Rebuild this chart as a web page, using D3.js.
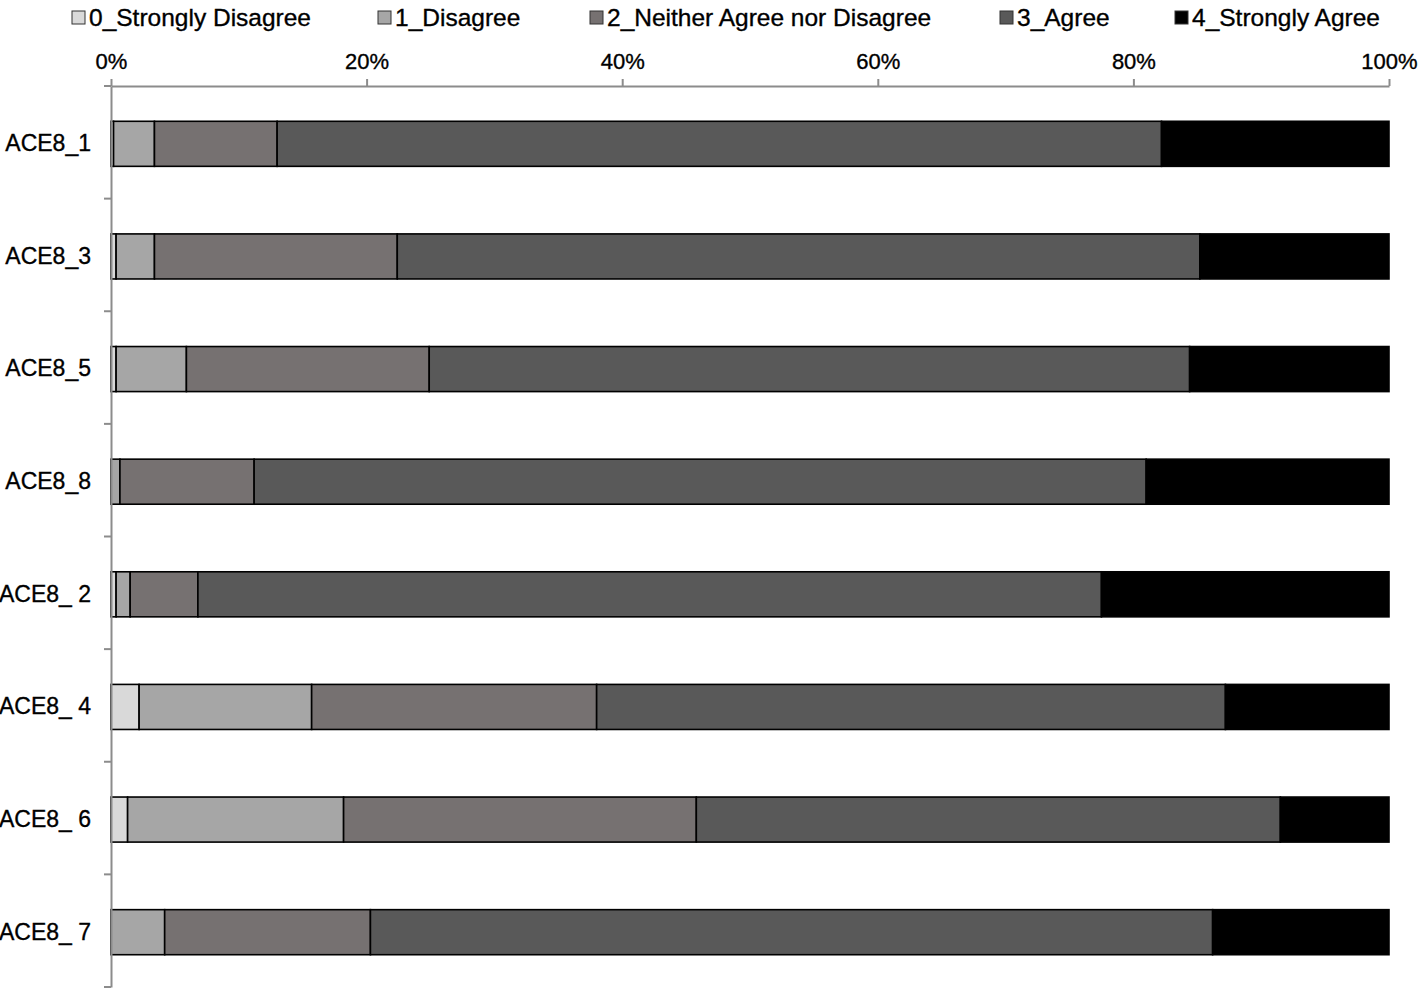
<!DOCTYPE html>
<html>
<head>
<meta charset="utf-8">
<script src="https://cdn.jsdelivr.net/npm/d3@7"></script>
<style>
  html, body { margin: 0; padding: 0; background: #fff; }
  svg { display: block; font-family: "Liberation Sans", Arial, sans-serif; }
</style>
</head>
<body>
<svg id="chart" width="1424" height="988"></svg>
<script>
const categories = ["ACE8_1", "ACE8_3", "ACE8_5", "ACE8_8", "ACE8_ 2", "ACE8_ 4", "ACE8_ 6", "ACE8_ 7"];
const seriesNames = ["0_Strongly Disagree", "1_Disagree", "2_Neither Agree nor Disagree", "3_Agree", "4_Strongly Agree"];
const stronglyDisagree = [0.2, 0.4, 0.4, 0.0, 0.4, 2.2, 1.3, 0.0];
const disagree         = [3.2, 3.0, 5.5, 0.7, 1.1, 13.5, 16.9, 4.2];
const neither          = [9.6, 19.0, 19.0, 10.5, 5.3, 22.3, 27.6, 16.1];
const agree            = [69.2, 62.8, 59.5, 69.8, 70.7, 49.2, 45.7, 65.9];
const stronglyAgree    = [17.8, 14.8, 15.6, 19.0, 22.5, 12.8, 8.5, 13.8];
const tickValues = [0, 20, 40, 60, 80, 100];
const colors = ["#d9d9d9", "#a6a6a6", "#767171", "#595959", "#000000"];

const seriesValues = [stronglyDisagree, disagree, neither, agree, stronglyAgree];
const table = categories.map((c, i) => {
  const row = { cat: c };
  seriesNames.forEach((s, k) => row[s] = seriesValues[k][i]);
  return row;
});

const svg = d3.select("#chart");
const x = d3.scaleLinear().domain([0, 100]).range([111, 1389]);
const y = d3.scaleBand().domain(categories).range([86, 987]).paddingInner(0.6).paddingOuter(0.3);
const barOffset = 1.5;

const stacked = d3.stack().keys(seriesNames)(table);

// bars
const g = svg.append("g").attr("transform", `translate(0,${barOffset})`);
stacked.forEach((layer, k) => {
  g.selectAll(null)
    .data(layer.filter(d => d[1] - d[0] > 0))
    .enter().append("rect")
    .attr("x", d => x(d[0]))
    .attr("y", d => y(d.data.cat))
    .attr("width", d => x(d[1]) - x(d[0]))
    .attr("height", y.bandwidth())
    .attr("fill", colors[k])
    .attr("stroke", "#000")
    .attr("stroke-width", 1.6);
});

const txtStyle = sel => sel.attr("fill", "#000").attr("stroke", "#000").attr("stroke-width", 0.35)
  .attr("font-family", "Liberation Sans, Arial, sans-serif");

// top axis
const xAxis = d3.axisTop(x).tickValues(tickValues).tickFormat(d => d + "%").tickSizeInner(7).tickSizeOuter(0).tickPadding(10);
const gx = svg.append("g").attr("transform", "translate(0,86)").call(xAxis);
gx.select(".domain").attr("stroke", "#8c8c8c").attr("stroke-width", 2);
gx.selectAll(".tick line").attr("stroke", "#8c8c8c").attr("stroke-width", 2);
gx.selectAll(".tick text").attr("font-size", 22).call(txtStyle);

// left axis
const yAxis = d3.axisLeft(y).tickSize(0).tickPadding(20);
const gy = svg.append("g").attr("transform", "translate(111,0)").call(yAxis);
gy.select(".domain").attr("stroke", "#8c8c8c").attr("stroke-width", 2);
gy.selectAll(".tick").attr("transform", d => `translate(0,${y(d) + y.bandwidth() / 2 + barOffset})`);
gy.selectAll(".tick text").attr("font-size", 23).call(txtStyle);
const boundaries = d3.range(categories.length + 1).map(i => y.range()[0] + i * y.step());
gy.selectAll(".sep").data(boundaries).enter().append("line")
  .attr("x1", -7).attr("x2", 0)
  .attr("y1", d => d).attr("y2", d => d)
  .attr("stroke", "#8c8c8c").attr("stroke-width", 2);

// legend
const legendX = [72, 378, 590, 1000, 1175];
const lg = svg.append("g");
seriesNames.forEach((s, k) => {
  lg.append("rect").attr("x", legendX[k]).attr("y", 11).attr("width", 13).attr("height", 13)
    .attr("fill", colors[k]).attr("stroke", "#333").attr("stroke-width", 1);
  lg.append("text").attr("x", legendX[k] + 17).attr("y", 26).attr("font-size", 24.5).call(txtStyle).text(s);
});
</script>
</body>
</html>
